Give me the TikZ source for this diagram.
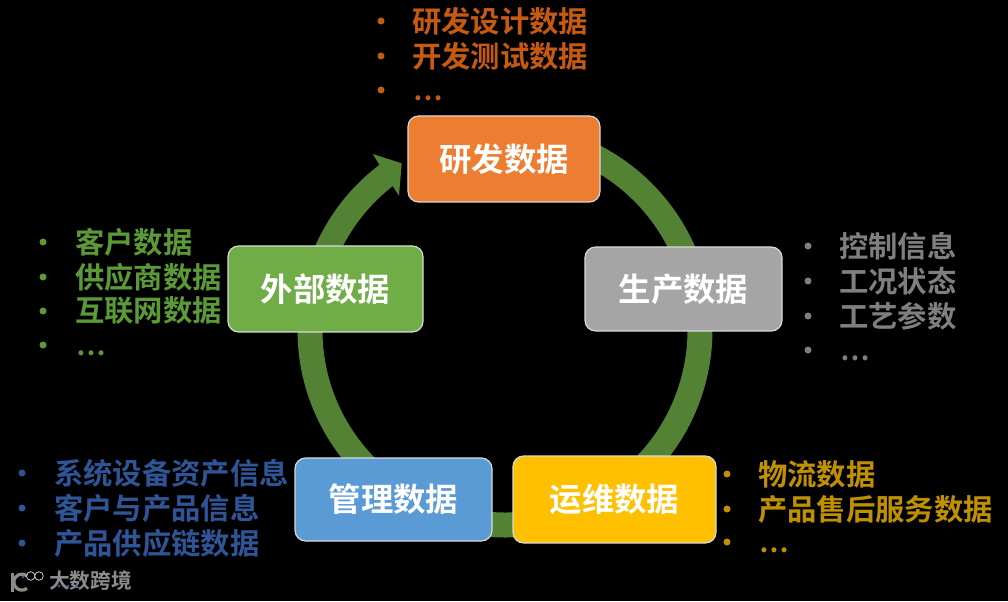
\documentclass[tikz,border=0pt]{standalone}
\usepackage{fontspec}
\setmainfont{Noto Sans CJK SC}[BoldFont={Noto Sans CJK SC Bold}]
\newfontfamily\wmfont{Noto Sans CJK SC Bold}
\definecolor{ringc}{HTML}{548235}
\definecolor{co}{HTML}{ED7D31}\definecolor{cot}{HTML}{C55A11}
\definecolor{cg}{HTML}{A5A5A5}\definecolor{cgt}{HTML}{7F7F7F}
\definecolor{cv}{HTML}{70AD47}\definecolor{cvt}{HTML}{5B9A36}
\definecolor{cb}{HTML}{5B9BD5}\definecolor{cbt}{HTML}{2F5597}
\definecolor{cy}{HTML}{FFC000}\definecolor{cyt}{HTML}{BF9000}
\definecolor{wmc}{HTML}{8C8C8C}
\tikzset{
  x=0.75pt,y=0.75pt,
  catbox/.style={draw=white!85!black,line width=0.9pt,rounded corners=8pt,inner sep=0pt,anchor=center,text=white,font=\fontsize{24.3}{25}\selectfont\bfseries},
  item/.style={anchor=west,inner sep=0pt,font=\fontsize{22}{23}\selectfont\bfseries},
  more/.style={anchor=west,inner sep=0pt,font=\fontsize{20}{20}\selectfont\bfseries},
  dot/.style={circle,inner sep=0pt,minimum size=5.25pt},
  wmdot/.style={circle,inner sep=0pt,minimum size=2.6pt,fill=cbt},
}
\newcommand{\listrow}[6]{% name, colour, bullet x, text x, y, text
  \node[dot,fill=#2] (#1b) at (#3,601-#5) {};
  \node[item,text=#2] (#1) at (#4,601-#5) {#6};
}
\newcommand{\morerow}[5]{% name, colour, bullet x, text x, y
  \node[dot,fill=#2] (#1b) at (#3,601-#5) {};
  \node[more,text=#2] (#1) at (#4,601-#5-8) {…};
}
\begin{document}
\begin{tikzpicture}
\useasboundingbox[fill=black] (0,0) rectangle (1008,601);
\coordinate (ctr) at (505,271);
% ring and arrow head
\draw[ringc,line width=18.75pt] (ctr) ++(127:146.25pt) arc[start angle=127,end angle=450,radius=146.25pt];
\coordinate (wa) at (372.7,447);
\coordinate (wb) at (399,405);
\coordinate (tip) at (401.7,437.7);
\fill[ringc] (wa) -- (tip) -- (wb) -- cycle;
% boxes
\node[catbox,fill=co,minimum width=144pt,minimum height=64.5pt] (rd) at (504,442) {研发数据};
\node[catbox,fill=cg,minimum width=147.75pt,minimum height=63pt] (sc) at (683.5,312) {生产数据};
\node[catbox,fill=cv,minimum width=146.25pt,minimum height=64.5pt] (wb2) at (325.5,312) {外部数据};
\node[catbox,fill=cb,minimum width=147.75pt,minimum height=62.25pt] (gl) at (393.5,101.5) {管理数据};
\node[catbox,fill=cy,minimum width=152.25pt,minimum height=65.25pt] (yw) at (614.5,101.5) {运维数据};
% lists
\listrow{a1}{cot}{381}{412}{21}{研发设计数据}
\listrow{a2}{cot}{381}{412}{56}{开发测试数据}
\morerow{a3}{cot}{381}{413}{90}
\listrow{b1}{cgt}{808}{839}{246}{控制信息}
\listrow{b2}{cgt}{808}{839}{281}{工况状态}
\listrow{b3}{cgt}{808}{839}{316}{工艺参数}
\morerow{b4}{cgt}{808}{840}{350}
\listrow{c1}{cvt}{43}{75}{242}{客户数据}
\listrow{c2}{cvt}{43}{75}{277}{供应商数据}
\listrow{c3}{cvt}{43}{75}{311}{互联网数据}
\morerow{c4}{cvt}{43}{76}{345}
\listrow{d1}{cbt}{22}{54}{473}{系统设备资产信息}
\listrow{d2}{cbt}{22}{54}{508}{客户与产品信息}
\listrow{d3}{cbt}{22}{54}{543}{产品供应链数据}
\listrow{e1}{cyt}{727}{758}{474}{物流数据}
\listrow{e2}{cyt}{727}{758}{509}{产品售后服务数据}
\morerow{e3}{cyt}{727}{759}{542}
% watermark
\node[anchor=west,inner sep=0pt,text=wmc,font=\wmfont\fontsize{15.5}{16}\selectfont] (wm) at (49,20) {大数跨境};
\draw[wmc,line width=2pt] (12.5,28) -- (12.5,9);
\draw[wmc,line width=2.4pt] (27,25) arc[start angle=50,end angle=310,radius=6pt];
\draw[white!80!black,line width=0.6pt] (30.7,25) circle[radius=3.2pt] (39,25) circle[radius=3.2pt];
\node[wmdot] (w1) at (23,24) {};
\node[wmdot] (w2) at (59,15) {};
\node[wmdot] (w3) at (68,15) {};
\node[wmdot] (w4) at (77,15) {};
\end{tikzpicture}
\end{document}
